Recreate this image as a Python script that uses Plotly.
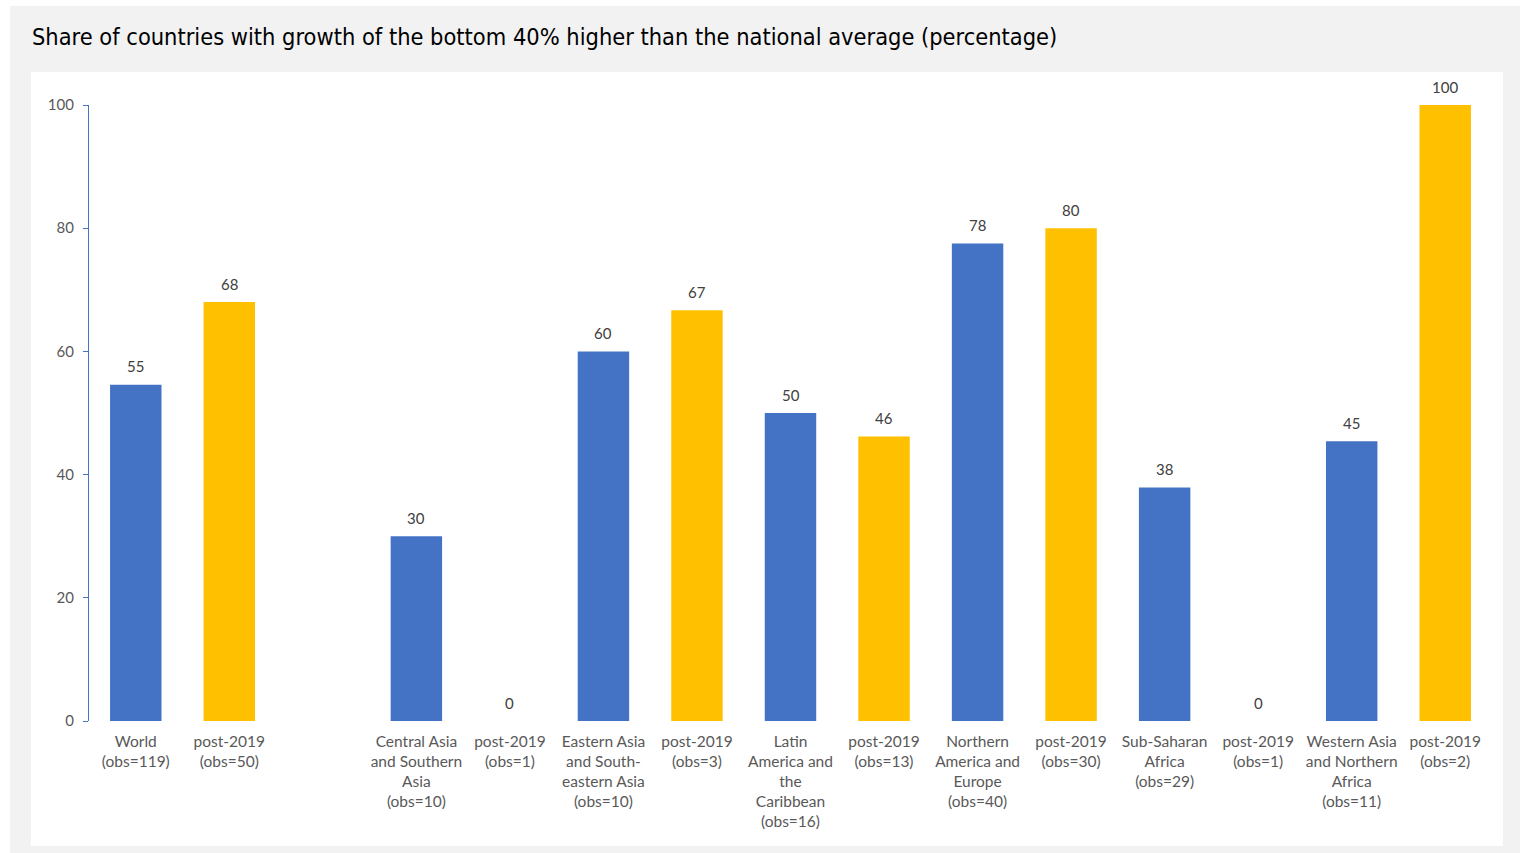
import plotly.graph_objects as go

# Slot positions (slot 2 is an empty gap)
blue_pos = [0, 3, 5, 7, 9, 11, 13]
yellow_pos = [1, 4, 6, 8, 10, 12, 14]
blue_vals = [54.6, 30.0, 60.0, 50.0, 77.5, 37.9, 45.4]
yellow_vals = [68.0, 0.0, 66.7, 46.2, 80.0, 0.0, 100.0]

tick_pos = [0, 1, 3, 4, 5, 6, 7, 8, 9, 10, 11, 12, 13, 14]
tick_text = [
    "World<br>(obs=119)",
    "post-2019<br>(obs=50)",
    "Central Asia<br>and Southern<br>Asia<br>(obs=10)",
    "post-2019<br>(obs=1)",
    "Eastern Asia<br>and South-<br>eastern Asia<br>(obs=10)",
    "post-2019<br>(obs=3)",
    "Latin<br>America and<br>the<br>Caribbean<br>(obs=16)",
    "post-2019<br>(obs=13)",
    "Northern<br>America and<br>Europe<br>(obs=40)",
    "post-2019<br>(obs=30)",
    "Sub-Saharan<br>Africa<br>(obs=29)",
    "post-2019<br>(obs=1)",
    "Western Asia<br>and Northern<br>Africa<br>(obs=11)",
    "post-2019<br>(obs=2)",
]

title_text = "Share of countries with growth of the bottom 40% higher than the national average (percentage)"

BLUE = "#4472C4"
YELLOW = "#FFC000"
FONT = "Lato"

fig = go.Figure()
fig.add_trace(go.Bar(x=blue_pos, y=blue_vals, marker_color=BLUE, width=0.55,
                     marker_line_width=0, hoverinfo="skip", showlegend=False))
fig.add_trace(go.Bar(x=yellow_pos, y=yellow_vals, marker_color=YELLOW, width=0.55,
                     marker_line_width=0, hoverinfo="skip", showlegend=False))

for xs, vs in ((blue_pos, blue_vals), (yellow_pos, yellow_vals)):
    for x, v in zip(xs, vs):
        fig.add_annotation(x=x, y=v, text=str(int(round(v))), showarrow=False,
                           yanchor="middle", yshift=18.5,
                           font=dict(family=FONT, size=15, color="#404040"))

L, R, T, B = 89, 28, 105, 132
PW = 1520 - L - R
PH = 853 - T - B

def px_to_paper_x(px):
    return (px - L) / PW

def px_to_paper_y(py):
    return (853 - B - py) / PH

# white frame edges
fig.add_shape(type="rect", xref="paper", yref="paper", layer="below",
              x0=px_to_paper_x(0), x1=px_to_paper_x(1520),
              y0=px_to_paper_y(6), y1=px_to_paper_y(0),
              line_width=0, fillcolor="white")
fig.add_shape(type="rect", xref="paper", yref="paper", layer="below",
              x0=px_to_paper_x(0), x1=px_to_paper_x(10),
              y0=px_to_paper_y(853), y1=px_to_paper_y(0),
              line_width=0, fillcolor="white")
# inner white panel
fig.add_shape(type="rect", xref="paper", yref="paper", layer="below",
              x0=px_to_paper_x(31), x1=px_to_paper_x(1503),
              y0=px_to_paper_y(846), y1=px_to_paper_y(72),
              line_width=0, fillcolor="white")

fig.update_layout(
    width=1520, height=853,
    margin=dict(l=L, r=R, t=T, b=B),
    paper_bgcolor="#F2F2F2",
    plot_bgcolor="rgba(0,0,0,0)",
    bargap=0.45,
    title=dict(text=title_text, x=32/1520, xanchor="left", y=1-37/853, yanchor="middle",
               font=dict(family="DejaVu Sans Condensed, Liberation Sans Narrow, sans-serif",
                         size=23.4, color="#000000")),
    xaxis=dict(range=[-0.5, 14.5], tickvals=tick_pos, ticktext=tick_text,
               showgrid=False, zeroline=False, showline=False, ticks="",
               ticklabelstandoff=9,
               tickfont=dict(family=FONT, size=15.5, color="#595959"),
               fixedrange=True),
    yaxis=dict(range=[0, 100], tickvals=[0, 20, 40, 60, 80, 100],
               showgrid=False, zeroline=False, showline=True, linecolor=BLUE,
               linewidth=1.3, ticks="outside", ticklen=5, tickcolor=BLUE,
               tickwidth=1.3, ticklabelstandoff=6,
               tickfont=dict(family=FONT, size=15, color="#595959"),
               fixedrange=True),
)

fig.write_html("out.html", config={"displayModeBar": False},
               post_script="document.body.style.margin='0';document.body.style.padding='0';")
